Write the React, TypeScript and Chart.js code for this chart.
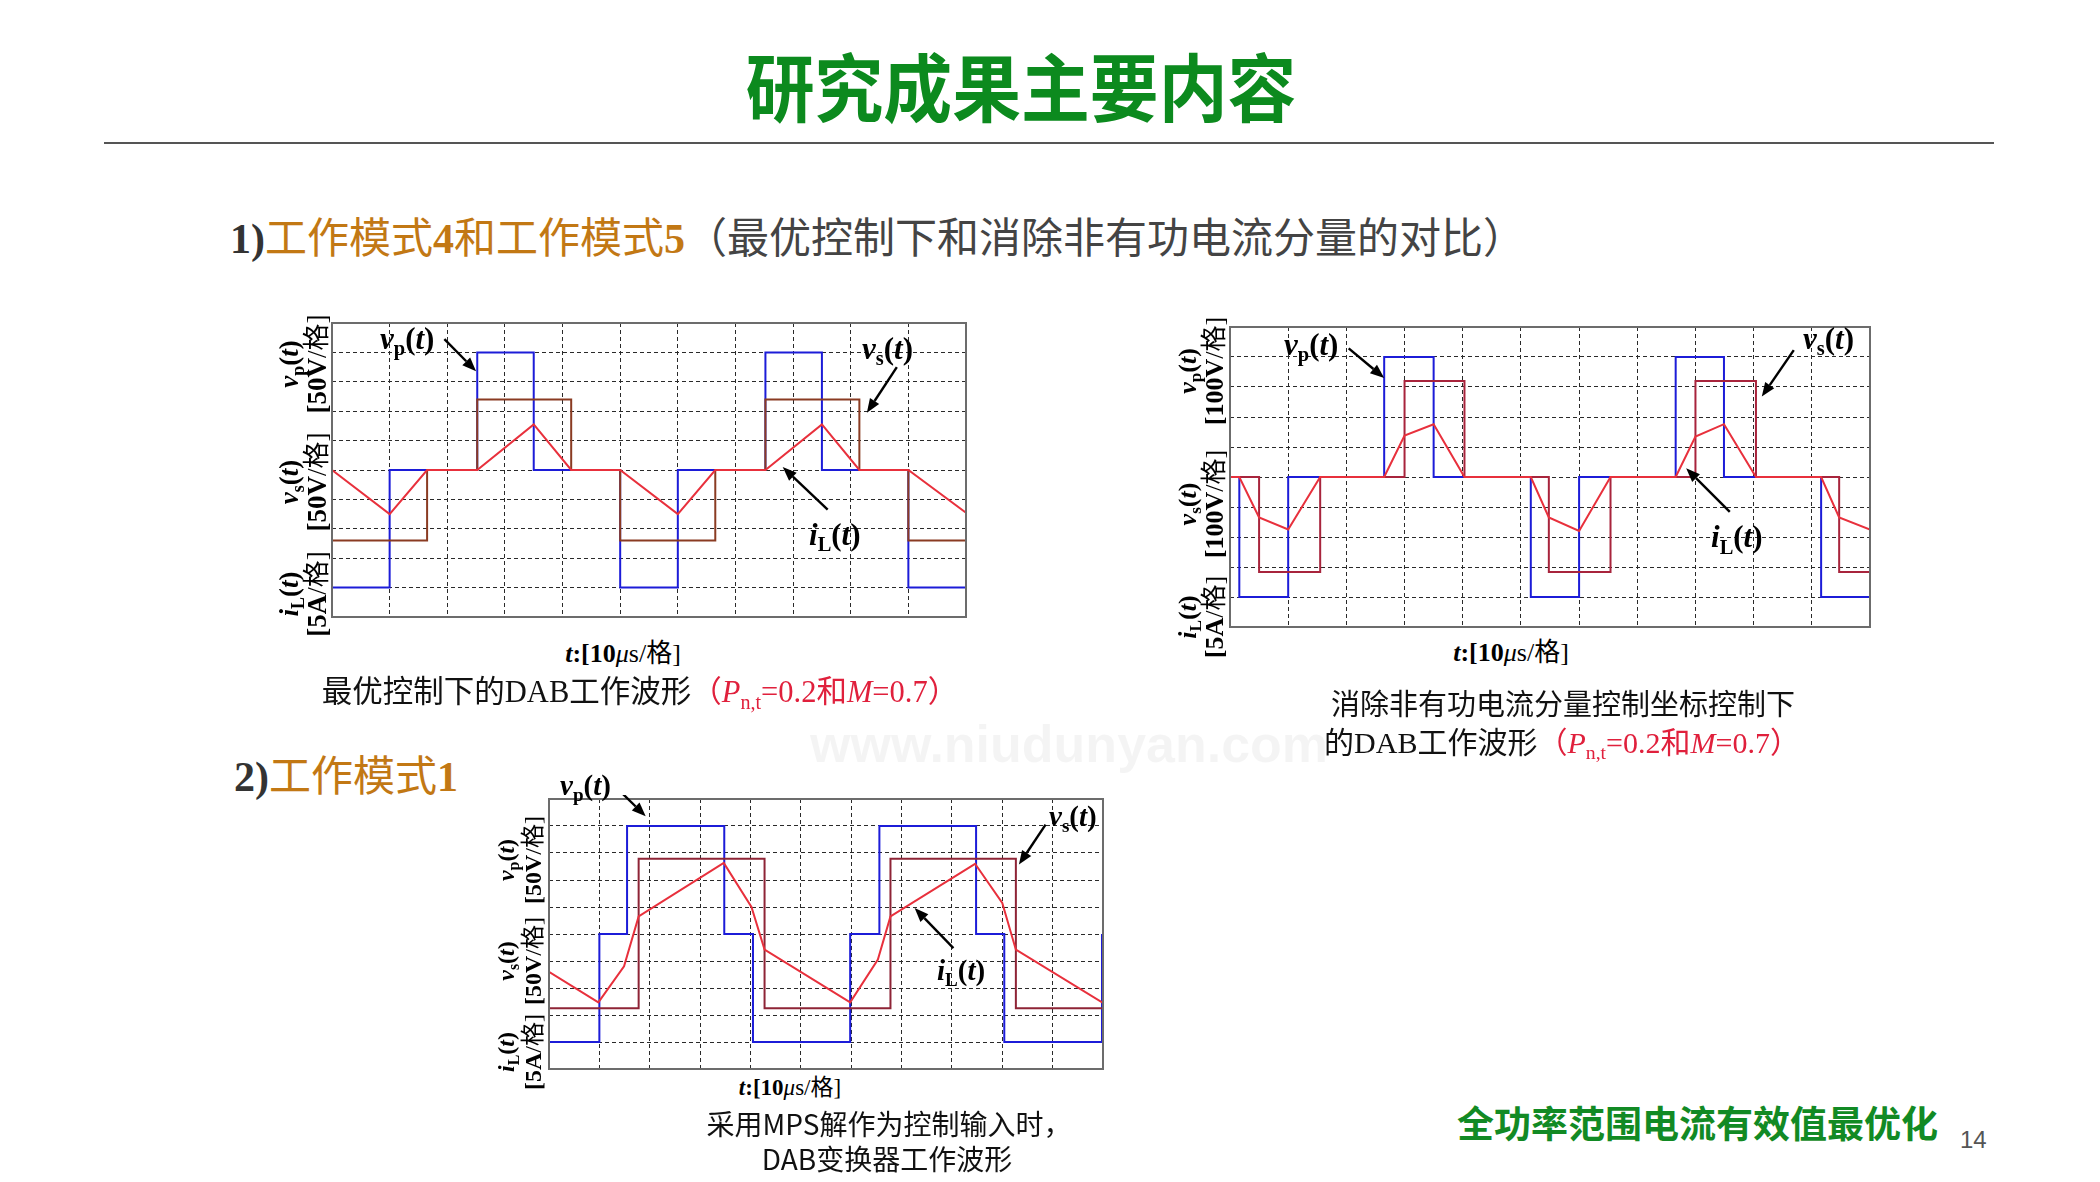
import React, { useEffect, useRef } from "react";
import { Chart, registerables } from "chart.js";
Chart.register(...registerables);

// ===== Data (grid divisions: x 0..11, y 0..10) =====
const xDivs = 11;
const yDivs = 10;

// Chart 1: 最优控制
const c1VpX = [0, 0, 1, 1, 2.52, 2.52, 3.5, 3.5, 5, 5, 6, 6, 7.52, 7.52, 8.5, 8.5, 10, 10, 11];
const c1VpY = [5, 1, 1, 5, 5, 9, 9, 5, 5, 1, 1, 5, 5, 9, 9, 5, 5, 1, 1];
const c1VsX = [0, 0, 1.65, 1.65, 2.52, 2.52, 4.15, 4.15, 5, 5, 6.65, 6.65, 7.52, 7.52, 9.15, 9.15, 10, 10, 11];
const c1VsY = [5, 2.6, 2.6, 5, 5, 7.4, 7.4, 5, 5, 2.6, 2.6, 5, 5, 7.4, 7.4, 5, 5, 2.6, 2.6];
const c1IlX = [0, 1, 1.65, 2.52, 3.5, 4.15, 5, 6, 6.65, 7.52, 8.5, 9.15, 10, 11];
const c1IlY = [5, 3.5, 5, 5, 6.55, 5, 5, 3.5, 5, 5, 6.55, 5, 5, 3.55];
const c1Arrows = [
  [1.95, 9.45, 2.5, 8.36],
  [9.8, 8.5, 9.28, 6.95],
  [8.6, 3.65, 7.82, 5.1],
];

// Chart 2: 消除非有功电流分量
const c2VpX = [0, 0.16, 0.16, 1.0, 1.0, 2.65, 2.65, 3.5, 3.5, 5.17, 5.17, 6.0, 6.0, 7.66, 7.66, 8.49, 8.49, 10.16, 10.16, 11];
const c2VpY = [5, 5, 1, 1, 5, 5, 9, 9, 5, 5, 1, 1, 5, 5, 9, 9, 5, 5, 1, 1];
const c2VsX = [0, 0.5, 0.5, 1.55, 1.55, 3.0, 3.0, 4.03, 4.03, 5.48, 5.48, 6.54, 6.54, 8.0, 8.0, 9.04, 9.04, 10.47, 10.47, 11];
const c2VsY = [5, 5, 1.83, 1.83, 5, 5, 8.2, 8.2, 5, 5, 1.83, 1.83, 5, 5, 8.2, 8.2, 5, 5, 1.83, 1.83];
const c2IlX = [0, 0.16, 0.5, 1.0, 1.55, 2.65, 3.0, 3.5, 4.03, 5.17, 5.48, 6.0, 6.54, 7.66, 8.0, 8.49, 9.04, 10.16, 10.47, 11];
const c2IlY = [5, 5, 3.65, 3.25, 5, 5, 6.38, 6.76, 5, 5, 3.65, 3.2, 5, 5, 6.35, 6.76, 5, 5, 3.65, 3.25];
const c2Arrows = [
  [2.04, 9.29, 2.65, 8.3],
  [9.69, 9.23, 9.14, 7.68],
  [8.59, 3.84, 7.84, 5.29],
];

// Chart 3: 工作模式1 (MPS)
const c3VpX = [0, 1, 1, 1.55, 1.55, 3.48, 3.48, 4.05, 4.05, 5.98, 5.98, 6.56, 6.56, 8.48, 8.48, 9.04, 9.04, 10.98, 10.98];
const c3VpY = [1, 1, 5, 5, 9, 9, 5, 5, 1, 1, 5, 5, 9, 9, 5, 5, 1, 1, 5];
const c3VsX = [0, 1.78, 1.78, 4.28, 4.28, 6.78, 6.78, 9.27, 9.27, 11];
const c3VsY = [2.25, 2.25, 7.79, 7.79, 2.25, 2.25, 7.79, 7.79, 2.25, 2.25];
const c3IlX = [0, 0.98, 1.49, 1.78, 3.47, 4.02, 4.28, 5.98, 6.53, 6.78, 8.46, 9.0, 9.27, 11];
const c3IlY = [3.6, 2.47, 3.8, 5.65, 7.63, 6.0, 4.42, 2.47, 4.05, 5.65, 7.6, 6.15, 4.42, 2.45];
const c3Arrows = [
  [1.35, 10.4, 1.92, 9.36],
  [9.86, 9.05, 9.33, 7.57],
  [8.03, 4.48, 7.26, 5.96],
];

// ===== Styles =====
const BLUE = "#1c1cd8";
const RED = "#e8303c";
const SERIF = "'Liberation Serif','Noto Sans CJK SC',serif";
const CJK = "'Noto Sans CJK SC','Liberation Sans',sans-serif";

type Series = { x: number[]; y: number[]; color: string; width: number; order: number };

const scopeDecor = {
  id: "scopeDecor",
  afterDraw(chart: any, _args: any, opts: any) {
    const { ctx, chartArea: a, scales } = chart;
    ctx.save();
    ctx.setLineDash([]);
    ctx.strokeStyle = "#6c6c6c";
    ctx.lineWidth = 2;
    ctx.strokeRect(a.left, a.top, a.right - a.left, a.bottom - a.top);
    const arrows: number[][] = opts.arrows || [];
    for (const ar of arrows) {
      const x1 = scales.x.getPixelForValue(ar[0]);
      const y1 = scales.y.getPixelForValue(ar[1]);
      const x2 = scales.x.getPixelForValue(ar[2]);
      const y2 = scales.y.getPixelForValue(ar[3]);
      const ang = Math.atan2(y2 - y1, x2 - x1);
      const hl = 14, hw = 5.5;
      const bx = x2 - hl * Math.cos(ang);
      const by = y2 - hl * Math.sin(ang);
      ctx.strokeStyle = "#000";
      ctx.fillStyle = "#000";
      ctx.lineWidth = 2.4;
      ctx.beginPath();
      ctx.moveTo(x1, y1);
      ctx.lineTo(bx, by);
      ctx.stroke();
      ctx.beginPath();
      ctx.moveTo(x2, y2);
      ctx.lineTo(bx + hw * Math.sin(ang), by - hw * Math.cos(ang));
      ctx.lineTo(bx - hw * Math.sin(ang), by + hw * Math.cos(ang));
      ctx.closePath();
      ctx.fill();
    }
    ctx.restore();
  },
};

function Scope(props: { left: number; top: number; width: number; height: number; series: Series[]; arrows: number[][] }) {
  const ref = useRef<HTMLCanvasElement>(null);
  const pad = 4;
  useEffect(() => {
    const axis = (max: number) => ({
      type: "linear" as const,
      min: 0,
      max,
      ticks: { display: false, stepSize: 1 },
      grid: { color: "#2a2a2a", lineWidth: 1, drawTicks: false, borderDash: [4, 3] },
      border: { display: false, dash: [4, 3] },
    });
    const chart = new Chart(ref.current!, {
      type: "line",
      data: {
        datasets: props.series.map((s) => ({
          data: s.x.map((x, j) => ({ x, y: s.y[j] })),
          borderColor: s.color,
          borderWidth: s.width,
          pointRadius: 0,
          tension: 0,
          fill: false,
          order: s.order,
        })),
      },
      options: {
        animation: false,
        responsive: false,
        maintainAspectRatio: false,
        devicePixelRatio: 1,
        layout: { padding: pad },
        plugins: {
          legend: { display: false },
          tooltip: { enabled: false },
          scopeDecor: { arrows: props.arrows },
        } as any,
        scales: { x: axis(xDivs), y: axis(yDivs) } as any,
      },
      plugins: [scopeDecor],
    });
    return () => chart.destroy();
  }, []);
  return (
    <canvas
      ref={ref}
      width={props.width + 2 * pad}
      height={props.height + 2 * pad}
      style={{ position: "absolute", left: props.left - pad, top: props.top - pad, width: props.width + 2 * pad, height: props.height + 2 * pad }}
    />
  );
}

const Sub = (p: { children: any }) => (
  <span style={{ fontSize: "0.66em", position: "relative", top: "0.32em", fontStyle: "normal" }}>{p.children}</span>
);

function Sig(p: { sym: string; sub: string }) {
  return (
    <span style={{ fontWeight: "bold" }}>
      <i>{p.sym}</i>
      <Sub>{p.sub}</Sub>(<i>t</i>)
    </span>
  );
}

function Label(p: { x: number; cy: number; fs: number; sym: string; sub: string }) {
  return (
    <div style={{ position: "absolute", left: p.x, top: p.cy - 0.6 * p.fs, fontSize: p.fs, lineHeight: 1, fontFamily: SERIF, whiteSpace: "nowrap", color: "#000" }}>
      <Sig sym={p.sym} sub={p.sub} />
    </div>
  );
}

function YLabel(p: { cx: number; cy: number; fs: number; lh: number; sym: string; sub: string; unit: string }) {
  const W = 240, H = 2 * p.lh;
  return (
    <div
      style={{
        position: "absolute", left: p.cx - W / 2, top: p.cy - H / 2, width: W, height: H,
        transform: "rotate(-90deg)", fontFamily: SERIF, fontSize: p.fs, lineHeight: p.lh + "px",
        textAlign: "center", color: "#000", whiteSpace: "nowrap",
      }}
    >
      <div><Sig sym={p.sym} sub={p.sub} /></div>
      <div><b>[{p.unit}</b>/格]</div>
    </div>
  );
}

function XLabel(p: { cx: number; cy: number; fs: number }) {
  const W = 300;
  return (
    <div style={{ position: "absolute", left: p.cx - W / 2, width: W, top: p.cy - 0.6 * p.fs, fontSize: p.fs, lineHeight: 1, fontFamily: SERIF, textAlign: "center", whiteSpace: "nowrap" }}>
      <b><i>t</i>:[10</b><i>μ</i>s/格]
    </div>
  );
}

function Params() {
  return (
    <span style={{ color: "#e0203c" }}>
      （<i>P</i><Sub>n,t</Sub>=0.2和<i>M</i>=0.7）
    </span>
  );
}

function Centered(p: { cx: number; cy: number; fs: number; family: string; children: any; color?: string }) {
  const W = 900;
  return (
    <div style={{ position: "absolute", left: p.cx - W / 2, width: W, top: p.cy - 0.58 * p.fs, fontSize: p.fs, lineHeight: 1, fontFamily: p.family, textAlign: "center", whiteSpace: "nowrap", color: p.color || "#111" }}>
      {p.children}
    </div>
  );
}

export default function App() {
  useEffect(() => {
    document.body.style.margin = "0";
  }, []);
  const s1: Series[] = [
    { x: c1VpX, y: c1VpY, color: BLUE, width: 2, order: 3 },
    { x: c1VsX, y: c1VsY, color: "#8a3b22", width: 2, order: 2 },
    { x: c1IlX, y: c1IlY, color: RED, width: 2, order: 1 },
  ];
  const s2: Series[] = [
    { x: c2VpX, y: c2VpY, color: BLUE, width: 2, order: 3 },
    { x: c2VsX, y: c2VsY, color: "#a8243c", width: 2, order: 2 },
    { x: c2IlX, y: c2IlY, color: RED, width: 2, order: 1 },
  ];
  const s3: Series[] = [
    { x: c3VpX, y: c3VpY, color: BLUE, width: 2, order: 3 },
    { x: c3VsX, y: c3VsY, color: "#8e2436", width: 2, order: 2 },
    { x: c3IlX, y: c3IlY, color: RED, width: 2, order: 1 },
  ];
  return (
    <div style={{ position: "absolute", left: 0, top: 0, width: 2100, height: 1182, background: "#fff", overflow: "hidden" }}>
      {/* watermark */}
      <div style={{ position: "absolute", left: 810, top: 714, fontFamily: "'Liberation Sans',sans-serif", fontWeight: "bold", fontSize: 52, color: "rgba(0,0,0,0.045)", whiteSpace: "nowrap" }}>
        www.niudunyan.com
      </div>

      {/* title */}
      <div style={{ position: "absolute", left: 1021 - 500, width: 1000, top: 88 - 0.56 * 74, textAlign: "center", fontFamily: CJK, fontWeight: "bold", fontSize: 74, lineHeight: 1, color: "#0c8a1e", transform: "scaleX(0.93)" }}>
        研究成果主要内容
      </div>
      <div style={{ position: "absolute", left: 104, top: 142, width: 1890, height: 2, background: "#555" }} />

      {/* headings */}
      <div style={{ position: "absolute", left: 230, top: 242 - 0.56 * 42, fontSize: 42, lineHeight: 1, fontFamily: SERIF, whiteSpace: "nowrap" }}>
        <b style={{ color: "#333" }}>1)</b>
        <span style={{ color: "#c27814" }}>工作模式<b>4</b>和工作模式<b>5</b></span>
        <span style={{ color: "#444" }}>（最优控制下和消除非有功电流分量的对比）</span>
      </div>
      <div style={{ position: "absolute", left: 234, top: 780 - 0.56 * 42, fontSize: 42, lineHeight: 1, fontFamily: SERIF, whiteSpace: "nowrap" }}>
        <b style={{ color: "#333" }}>2)</b>
        <span style={{ color: "#c27814" }}>工作模式<b>1</b></span>
      </div>

      {/* chart 1 */}
      <Scope left={332} top={323} width={634} height={294} series={s1} arrows={c1Arrows} />
      <YLabel cx={302} cy={364} fs={27} lh={25} sym="v" sub="p" unit="50V" />
      <YLabel cx={302} cy={482} fs={27} lh={25} sym="v" sub="s" unit="50V" />
      <YLabel cx={302} cy={594} fs={27} lh={25} sym="i" sub="L" unit="5A" />
      <Label x={380} cy={341.5} fs={31} sym="v" sub="p" />
      <Label x={862} cy={351.5} fs={31} sym="v" sub="s" />
      <Label x={809} cy={537.5} fs={31} sym="i" sub="L" />
      <XLabel cx={623} cy={657} fs={26} />
      <Centered cx={640} cy={695} fs={30.5} family={SERIF}>
        最优控制下的DAB工作波形<Params />
      </Centered>

      {/* chart 2 */}
      <Scope left={1230} top={327} width={640} height={300} series={s2} arrows={c2Arrows} />
      <YLabel cx={1200} cy={371} fs={26} lh={24} sym="v" sub="p" unit="100V" />
      <YLabel cx={1200} cy={504} fs={26} lh={24} sym="v" sub="s" unit="100V" />
      <YLabel cx={1200} cy={617} fs={26} lh={24} sym="i" sub="L" unit="5A" />
      <Label x={1284} cy={347.5} fs={31} sym="v" sub="p" />
      <Label x={1803} cy={341.5} fs={31} sym="v" sub="s" />
      <Label x={1711} cy={540} fs={31} sym="i" sub="L" />
      <XLabel cx={1511} cy={656} fs={26} />
      <Centered cx={1563} cy={708} fs={29} family={SERIF}>
        消除非有功电流分量控制坐标控制下
      </Centered>
      <Centered cx={1562} cy={745} fs={30} family={SERIF}>
        的DAB工作波形<Params />
      </Centered>

      {/* chart 3 */}
      <Scope left={549} top={799} width={554} height={270} series={s3} arrows={c3Arrows} />
      <YLabel cx={519} cy={860} fs={24} lh={25} sym="v" sub="p" unit="50V" />
      <YLabel cx={519} cy={961} fs={24} lh={25} sym="v" sub="s" unit="50V" />
      <YLabel cx={519} cy={1052} fs={24} lh={25} sym="i" sub="L" unit="5A" />
      <Label x={560} cy={788.5} fs={29} sym="v" sub="p" />
      <Label x={1049} cy={819.5} fs={29} sym="v" sub="s" />
      <Label x={937} cy={973.5} fs={29} sym="i" sub="L" />
      <XLabel cx={790} cy={1090} fs={23} />
      <Centered cx={889} cy={1125} fs={28} family={CJK}>
        采用MPS解作为控制输入时，
      </Centered>
      <Centered cx={887} cy={1160} fs={28} family={CJK}>
        DAB变换器工作波形
      </Centered>

      {/* footer */}
      <div style={{ position: "absolute", left: 1457, top: 1125 - 0.56 * 37, fontFamily: CJK, fontWeight: "bold", fontSize: 37, lineHeight: 1, color: "#128a24", whiteSpace: "nowrap" }}>
        全功率范围电流有效值最优化
      </div>
      <div style={{ position: "absolute", left: 1960, top: 1142 - 0.6 * 24, fontFamily: "'Liberation Sans',sans-serif", fontSize: 24, lineHeight: 1, color: "#555" }}>
        14
      </div>
    </div>
  );
}
